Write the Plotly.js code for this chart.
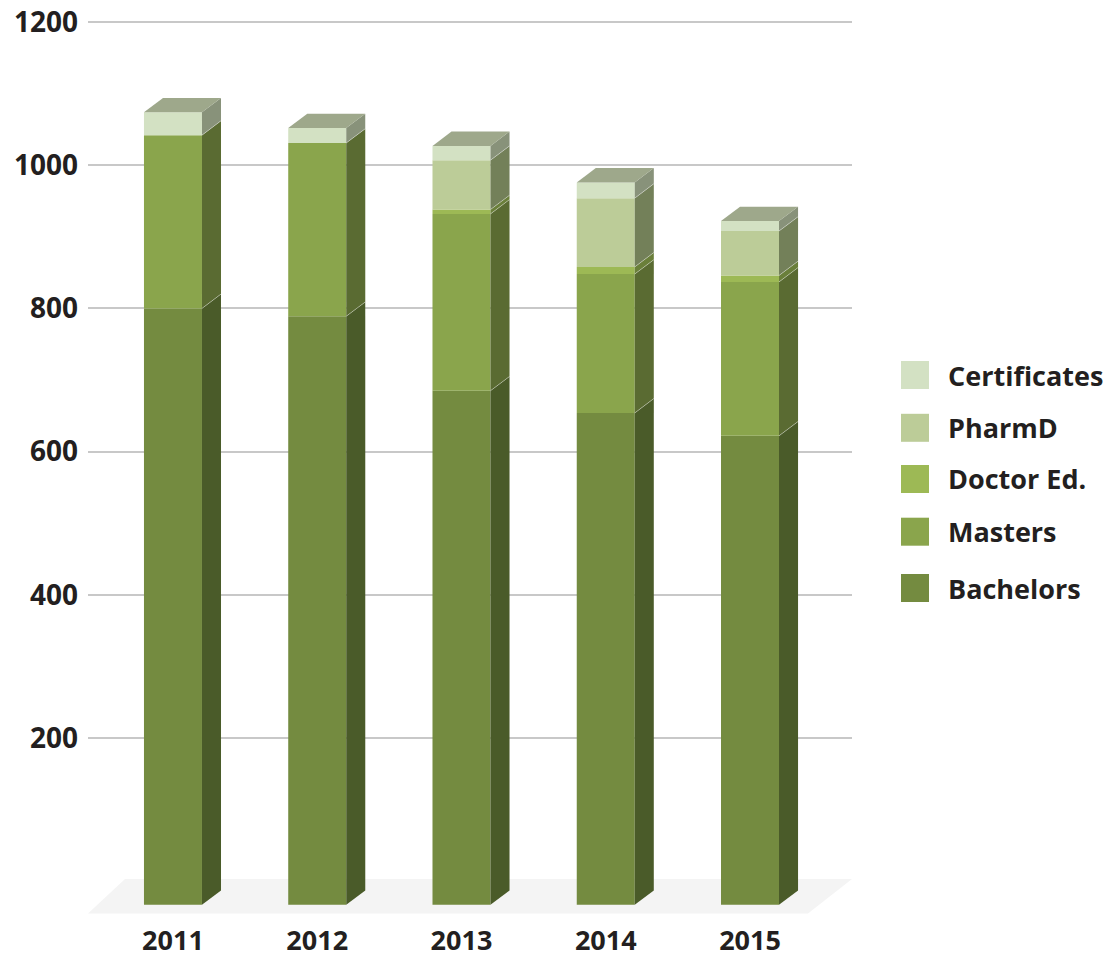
<!DOCTYPE html>
<html>
<head>
<meta charset="utf-8">
<script src="https://cdn.plot.ly/plotly-3.0.1.min.js"></script>
<style>html,body{margin:0;padding:0;background:#fff;}#chart{width:1117px;height:957px;}</style>
</head>
<body>
<div id="chart"></div>
<script>
// ---- data ----
var years = ['2011', '2012', '2013', '2014', '2015'];
var bachelors = [800, 789, 685, 654, 622];
var masters = [242, 242, 247, 194, 215];
var doctorEd = [0, 0, 6, 10, 9];
var pharmD = [0, 0, 69, 96, 62];
var certificates = [32, 21, 20, 22, 14];
var yTickVals = [200, 400, 600, 800, 1000, 1200];
var seriesNames = ['Bachelors', 'Masters', 'Doctor Ed.', 'PharmD', 'Certificates'];

// ---- style ----
var frontColors = ['#748b40', '#8aa54c', '#9db955', '#bccc98', '#d3e1c3'];
var sideColors = ['#4a5b29', '#5a6b32', '#6a7f3a', '#738059', '#88927a'];
var topColor = '#9ea88b';
var BAR_W = 0.402, DX = 0.132, DY = 20, BASE = -33;
var W = 1117, H = 957, ML = 88, MR = 265, MT = 18, MB = 40;
var X_RANGE = [-0.589, 4.707], Y_RANGE = [-50, 1205.6];
var FONT = 'Open Sans, Lato, sans-serif';
var TXT = '#231f20';

var series = [bachelors, masters, doctorEd, pharmD, certificates];
var xs = years.map(function (_, i) { return i; });

// cumulative bottoms/tops computed from the data
var bottoms = [], tops = [];
var run = xs.map(function () { return 0; });
series.forEach(function (s, k) {
  var b = [], t = [];
  s.forEach(function (v, i) {
    var lo = (k === 0) ? BASE : run[i];
    b.push(lo);
    run[i] = run[i] + v;
    t.push(run[i]);
  });
  bottoms.push(b); tops.push(t);
});

var traces = series.map(function (s, k) {
  return {
    type: 'bar', x: xs, y: tops[k].map(function (t, i) { return t - bottoms[k][i]; }),
    base: bottoms[k], width: BAR_W, name: seriesNames[k],
    marker: { color: frontColors[k], line: { width: 0 } },
    hoverinfo: 'skip', showlegend: false
  };
});

var shapes = [];
// floor
var px2x = function (px) { return X_RANGE[0] + (px - ML) / (W - ML - MR) * (X_RANGE[1] - X_RANGE[0]); };
shapes.push({
  type: 'path', xref: 'x', yref: 'y', layer: 'below',
  path: 'M' + px2x(88) + ',-45 L' + px2x(125) + ',3 L' + px2x(852) + ',3 L' + px2x(808) + ',-45 Z',
  fillcolor: '#f4f4f4', line: { width: 0 }
});
// side faces
series.forEach(function (s, k) {
  xs.forEach(function (x, i) {
    var y0 = bottoms[k][i], y1 = tops[k][i];
    if (y1 - y0 <= 0) return;
    var xr = x + BAR_W / 2;
    shapes.push({
      type: 'path', xref: 'x', yref: 'y', layer: 'above',
      path: 'M' + xr + ',' + y0 + ' L' + (xr + DX) + ',' + (y0 + DY) + ' L' + (xr + DX) + ',' + (y1 + DY) + ' L' + xr + ',' + y1 + ' Z',
      fillcolor: sideColors[k], line: { width: 0 }
    });
    if (k > 0) {
      shapes.push({
        type: 'line', xref: 'x', yref: 'y', layer: 'above',
        x0: xr, y0: y0, x1: xr + DX, y1: y0 + DY,
        line: { color: 'rgba(255,255,255,0.35)', width: 1 }
      });
    }
  });
});
// top faces
xs.forEach(function (x, i) {
  var top = tops[series.length - 1][i];
  var xl = x - BAR_W / 2, xr = x + BAR_W / 2;
  shapes.push({
    type: 'path', xref: 'x', yref: 'y', layer: 'above',
    path: 'M' + xl + ',' + top + ' L' + (xl + DX) + ',' + (top + DY) + ' L' + (xr + DX) + ',' + (top + DY) + ' L' + xr + ',' + top + ' Z',
    fillcolor: topColor, line: { width: 0 }
  });
});

// manual legend (top to bottom: Certificates ... Bachelors)
var annotations = [];
var legendCenters = [588, 531.7, 479, 427.8, 375];
var px2py = function (py) { return (H - MB - py) / (H - MT - MB); };
var px2pxp = function (px) { return (px - ML) / (W - ML - MR); };
seriesNames.forEach(function (n, k) {
  var cy = legendCenters[k];
  shapes.push({
    type: 'rect', xref: 'paper', yref: 'paper',
    x0: px2pxp(901), x1: px2pxp(929), y0: px2py(cy + 14), y1: px2py(cy - 14),
    fillcolor: frontColors[k], line: { width: 0 }
  });
  annotations.push({
    xref: 'paper', yref: 'paper', x: px2pxp(946), y: px2py(cy),
    xanchor: 'left', yanchor: 'middle', showarrow: false, text: n,
    font: { family: FONT, size: 27, color: TXT, weight: 700 }
  });
});

var layout = {
  width: W, height: H,
  margin: { l: ML, r: MR, t: MT, b: MB },
  paper_bgcolor: '#ffffff', plot_bgcolor: 'rgba(0,0,0,0)',
  barmode: 'overlay', showlegend: false,
  xaxis: {
    range: X_RANGE, tickvals: xs, ticktext: years, showgrid: false, zeroline: false,
    showline: false, ticks: '', ticklabelstandoff: 5,
    tickfont: { family: FONT, size: 27, color: TXT, weight: 700 }
  },
  yaxis: {
    range: Y_RANGE, tickvals: yTickVals, ticktext: yTickVals.map(String),
    showgrid: true, gridcolor: '#c8c8c8', gridwidth: 2, zeroline: false, showline: false,
    ticks: '', ticklabelstandoff: 9,
    tickfont: { family: FONT, size: 28, color: TXT, weight: 700 }
  },
  shapes: shapes, annotations: annotations
};

Plotly.newPlot('chart', traces, layout, { displayModeBar: false, staticPlot: true });
</script>
</body>
</html>
